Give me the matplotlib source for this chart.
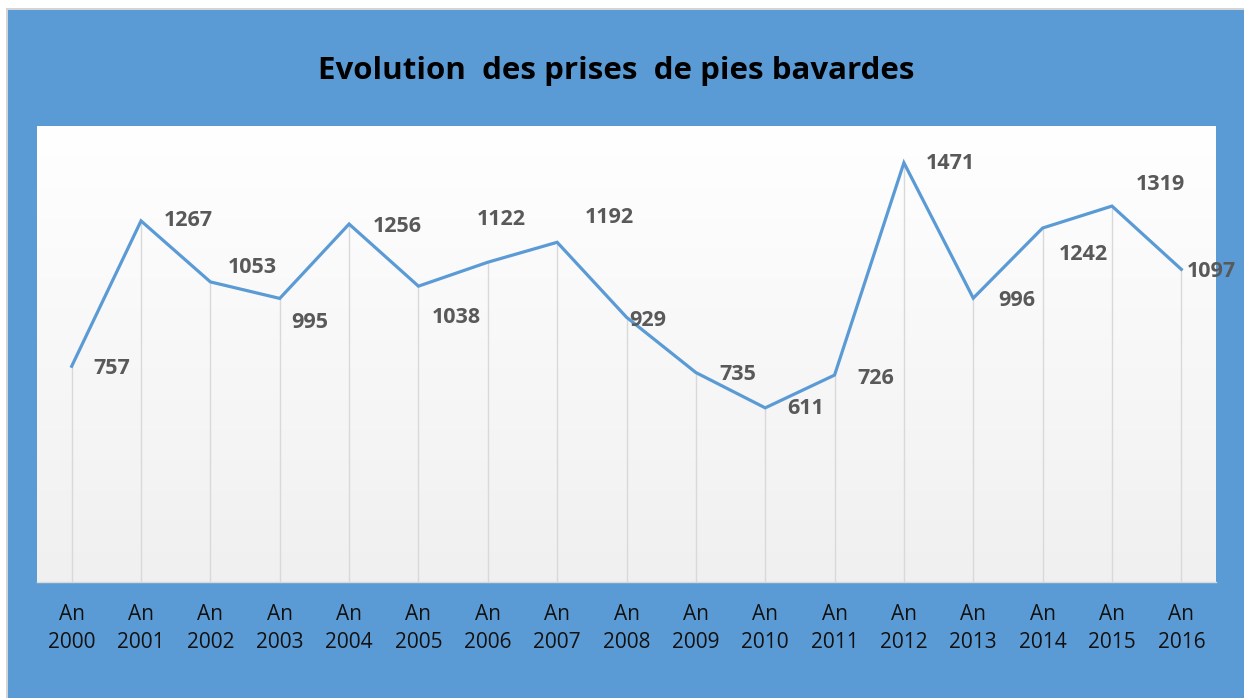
import numpy as np
import matplotlib
matplotlib.use('Agg')
import matplotlib.pyplot as plt
from matplotlib.patches import Rectangle

years = list(range(2000, 2017))
captures = [757, 1267, 1053, 995, 1256, 1038, 1122, 1192, 929,
            735, 611, 726, 1471, 996, 1242, 1319, 1097]
tick_labels = [f"An\n{y}" for y in years]

# label offsets from each point, in pixels (dx right, dy down)
label_dx = [40, 47, 42, 30, 48, 38, 13, 52, 21, 42, 40, 41, 46, 43, 41, 48, 30]
label_dy = [2, 0, -14, 24, 2, 31, -43, -25, 3, 2, 1, 3, 1, 2, 26, -22, 2]

W, H = 1244, 698
blue = '#5B9BD5'

plt.rcParams['font.family'] = ['Open Sans', 'DejaVu Sans']

fig = plt.figure(figsize=(W / 100, H / 100), dpi=100)
fig.patch.set_facecolor('white')

# outer frame: grey border then blue chart area
fig.patches.append(Rectangle((6 / W, 0), 1, 1 - 8 / H, transform=fig.transFigure,
                             facecolor='#D4D4D4', edgecolor='none', zorder=-2))
fig.patches.append(Rectangle((8 / W, 0), 1, 1 - 10 / H, transform=fig.transFigure,
                             facecolor=blue, edgecolor='none', zorder=-1))

left, right, top, bottom = 37, 1216, 126, 582
ax = fig.add_axes([left / W, 1 - bottom / H, (right - left) / W, (bottom - top) / H])

# vertical gradient background of the plot area
grad = np.linspace(0, 1, 256).reshape(-1, 1)
cmap = matplotlib.colors.LinearSegmentedColormap.from_list('g', ['#F0F0F0', '#FFFFFF'])
ax.imshow(grad, extent=[0, 1, 0, 1], transform=ax.transAxes, cmap=cmap,
          aspect='auto', origin='lower', zorder=0)

x = np.arange(len(years))
ax.vlines(x, 0, captures, color='#D9D9D9', linewidth=1, zorder=1)
ax.plot(x, captures, color=blue, linewidth=2.3, zorder=3, solid_joinstyle='miter')

for xi, v, dx, dy in zip(x, captures, label_dx, label_dy):
    ax.annotate(str(v), (xi, v), xytext=(dx * 0.72, -dy * 0.72),
                textcoords='offset points', ha='center', va='center',
                fontsize=15.5, fontweight='bold', color='#595959', zorder=4)

ax.set_xlim(-0.5, len(years) - 0.5)
ax.set_ylim(0, 1600)
ax.set_yticks([])
ax.set_xticks(x)
ax.set_xticklabels(tick_labels, fontsize=15, color='#111111', linespacing=1.45)
ax.tick_params(axis='x', length=0, pad=16)
for s in ['top', 'right', 'left']:
    ax.spines[s].set_visible(False)
ax.spines['bottom'].set_color('#D9D9D9')
ax.spines['bottom'].set_linewidth(1)

fig.text(616 / W, 1 - 71 / H, 'Evolution  des prises  de pies bavardes',
         ha='center', va='center', fontsize=22.5, fontweight='bold', color='black')

fig.savefig('out.png', dpi=100)
